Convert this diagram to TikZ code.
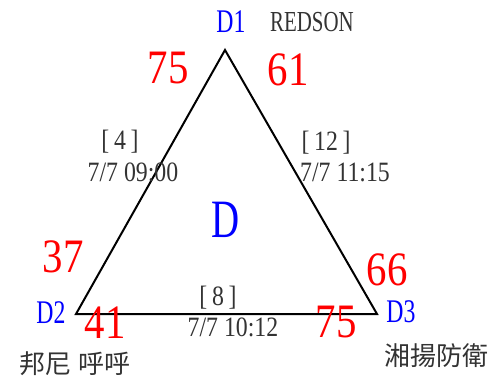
\documentclass[tikz,border=0pt]{standalone}
\usepackage{fontspec}
\setmainfont{Liberation Serif}
\newfontfamily\letterfont[FakeStretch=0.72]{Liberation Serif}
\newfontfamily\digitfont[FakeStretch=0.85]{Liberation Serif}
\newfontfamily\cjkfont{Noto Sans CJK TC}
\usetikzlibrary{positioning}
\definecolor{infogray}{HTML}{333333}

\tikzset{
  vname/.style={font=\letterfont\fontsize{33}{33}\selectfont, text=blue, inner sep=0pt},
  score/.style={font=\digitfont\fontsize{48}{48}\selectfont, text=red, inner sep=0pt},
  gameinfo/.style={font=\digitfont\fontsize{28}{28}\selectfont, text=infogray, inner sep=0pt},
  player/.style={font=\cjkfont\fontsize{26}{26}\selectfont, text=infogray, inner sep=0pt},
}

\begin{document}
\begin{tikzpicture}[x=1pt, y=-1pt, line width=2pt]
        \useasboundingbox (0,0) rectangle (503,382);
        % Triangle
        \coordinate (V1) at (225,50);
        \coordinate (V2) at (76,314);
        \coordinate (V3) at (377,314);
        \draw[line join=miter] (V1) -- (V2) -- (V3) -- cycle;
        % Vertices
        \node[vname] (D1) at (231,22) {D1};
        \node[vname] (D2) at (51,313) {D2};
        \node[vname] (D3) at (401,312) {D3};
        \node[vname, font=\letterfont\fontsize{54}{54}\selectfont] (D) at (226,220) {D};
        % Players
        \node[font=\letterfont\fontsize{29}{29}\selectfont, text=infogray, inner sep=0pt] (p1) at (312,22) {REDSON};
        \node[player] (p2) at (75,364) {邦尼\hspace{8pt}呼呼};
        \node[player] (p3) at (436,356) {湘揚防衛};
        % Scores
        \node[score] (s12) at (168,68) {75};
        \node[score] (s13) at (288,70) {61};
        \node[score] (s21) at (63,257) {37};
        \node[score] (s23) at (105,323) {41};
        \node[score] (s31) at (387,270) {66};
        \node[score] (s32) at (336,322) {75};
        % Games
        \node[gameinfo] (g12) at (120,142) {[\,4\,]};
        \node[gameinfo] (t12) at (133,172) {7/7 09:00};
        \node[gameinfo] (g13) at (326,143) {[\,12\,]};
        \node[gameinfo] (t13) at (345,172) {7/7 11:15};
        \node[gameinfo] (g23) at (218,298) {[\,8\,]};
        \node[gameinfo] (t23) at (233,327) {7/7 10:12};
    \end{tikzpicture}
\end{document}
